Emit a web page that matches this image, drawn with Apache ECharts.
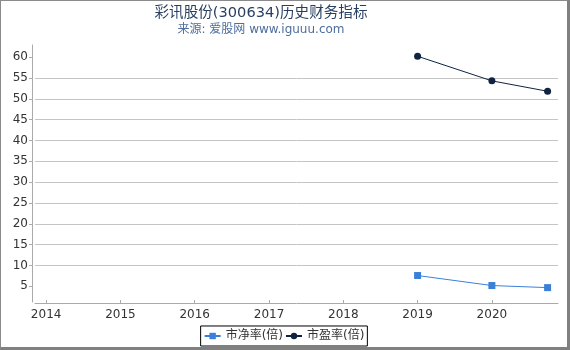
<!DOCTYPE html>
<html>
<head>
<meta charset="utf-8">
<script src="https://cdn.jsdelivr.net/npm/echarts@6/dist/echarts.min.js"></script>
<style>
  html, body { margin: 0; padding: 0; background: #fff; }
  .box {
    width: 570px; height: 350px; box-sizing: border-box;
    border-left: 1px solid #8a8a8a; border-top: 1px solid #8a8a8a;
    border-right: 3px solid #808080; border-bottom: 3px solid #808080;
  }
  #chart { width: 566px; height: 346px; }
</style>
</head>
<body>
<div class="box"><div id="chart"></div></div>
<script>
  // 数据
  var years = [2014, 2015, 2016, 2017, 2018, 2019, 2020]
  var yTicks = [5, 10, 15, 20, 25, 30, 35, 40, 45, 50, 55, 60]
  var dates = [2019, 2020, 2020.75]
  var pbValues = [7.6, 5.2, 4.7] // 市净率
  var peValues = [60.2, 54.3, 51.8] // 市盈率

  var font = 'DejaVu Sans, Noto Sans CJK SC, sans-serif'

  function pairs(xs, ys) {
    return xs.map(function(x, i) { return [x, ys[i]] })
  }

  var chart = echarts.init(document.getElementById('chart'))
  chart.setOption({
    animation: false,
    textStyle: { fontFamily: font },
    title: [
      {
        text: '彩讯股份(300634)历史财务指标',
        left: 255,
        top: 0,
        textAlign: 'center',
        textStyle: { fontSize: 14.6, fontWeight: 'normal', color: '#283f62', fontFamily: font }
      },
      {
        text: '来源: 爱股网 www.iguuu.com',
        left: 255,
        top: 18,
        textAlign: 'center',
        textStyle: { fontSize: 12, fontWeight: 'normal', color: '#4e6e9c', fontFamily: font }
      }
    ],
    legend: {
      bottom: 1,
      left: 'center',
      padding: [4, 3],
      itemGap: 2,
      itemWidth: 16,
      itemHeight: 8,
      borderColor: '#000',
      borderWidth: 1,
      borderRadius: 0,
      textStyle: { fontSize: 12, color: '#333', fontFamily: font },
      data: ['市净率(倍)', '市盈率(倍)']
    },
    grid: {
      left: 34,
      right: 9,
      top: 44,
      bottom: 45
    },
    xAxis: {
      type: 'value',
      min: 2013.85,
      max: 2020.89,
      minInterval: 1,
      maxInterval: 1,
      offset: 1,
      axisLine: { show: true, lineStyle: { color: '#aaa' } },
      axisTick: { show: true, length: 3, inside: true, customValues: years, lineStyle: { color: '#aaa' } },
      axisLabel: {
        customValues: years,
        color: '#333',
        fontSize: 12,
        margin: 6,
        formatter: function(v) { return String(v) }
      },
      splitLine: { show: false }
    },
    yAxis: {
      type: 'value',
      min: 1.25,
      max: 62.9,
      offset: 3,
      axisLine: { show: true, lineStyle: { color: '#aaa' } },
      axisTick: { show: true, length: 3, customValues: yTicks, lineStyle: { color: '#aaa' } },
      axisLabel: { customValues: yTicks, color: '#333', fontSize: 12, margin: 4 },
      splitLine: {
        show: true,
        showMinLine: false,
        showMaxLine: false,
        lineStyle: { color: '#c4c4c4', width: 1 }
      }
    },
    series: [
      {
        name: '市净率(倍)',
        type: 'line',
        data: pairs(dates, pbValues),
        symbol: 'rect',
        symbolSize: 7,
        itemStyle: { color: '#3a80d8' },
        lineStyle: { color: '#3a80d8', width: 1 }
      },
      {
        name: '市盈率(倍)',
        type: 'line',
        data: pairs(dates, peValues),
        symbol: 'circle',
        symbolSize: 7,
        itemStyle: { color: '#0f2342' },
        lineStyle: { color: '#0f2342', width: 1 }
      }
    ]
  })
</script>
</body>
</html>
